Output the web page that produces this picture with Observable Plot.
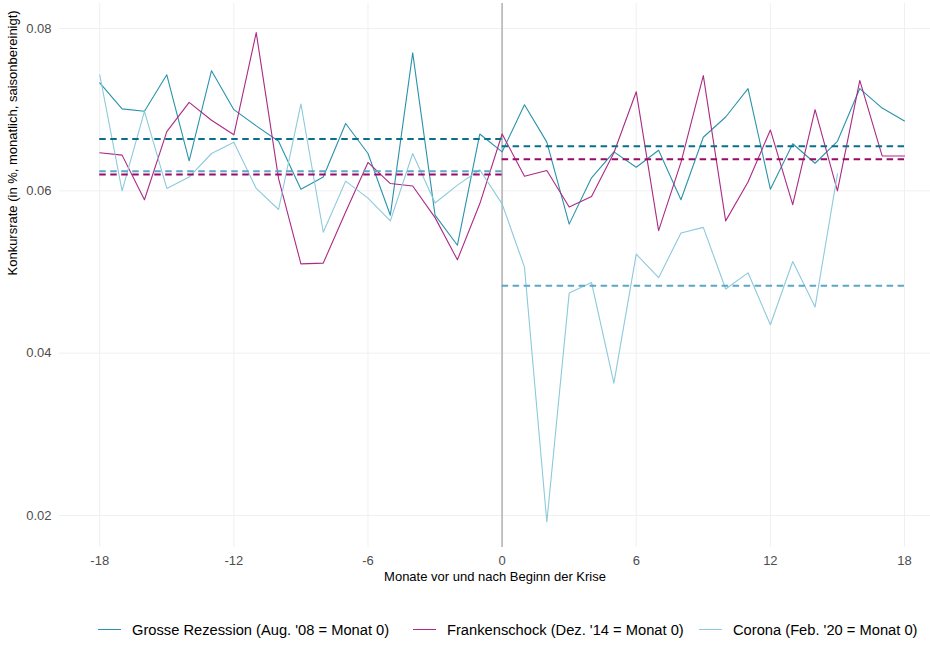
<!DOCTYPE html>
<html>
<head>
<meta charset="utf-8">
<script src="https://cdn.jsdelivr.net/npm/d3@7"></script>
<script src="https://cdn.jsdelivr.net/npm/@observablehq/plot@0.6"></script>
<style>
  body { margin: 0; background: #fff; font-family: "Liberation Sans", Arial, sans-serif; }
  #chart svg { display: block; }
  #legend { position: relative; height: 49px; margin-top: 5px; font-size: 14.7px; color: #000; white-space: nowrap; }
  .item { position: absolute; top: 0; height: 49px; display: flex; align-items: center; }
  .key { width: 23px; height: 1.5px; margin-right: 11px; }
</style>
</head>
<body>
<div id="chart"></div>
<div id="legend"></div>
<script>
// ---- data ----
const months = [-18,-17,-16,-15,-14,-13,-12,-11,-10,-9,-8,-7,-6,-5,-4,-3,-2,-1,0,1,2,3,4,5,6,7,8,9,10,11,12,13,14,15,16,17,18];
const grosse = [0.0733,0.0701,0.0698,0.0743,0.0637,0.0748,0.0700,0.0680,0.0661,0.0602,0.0617,0.0683,0.0646,0.0570,0.0770,0.0570,0.0533,0.0670,0.0648,0.0706,0.0660,0.0559,0.0616,0.0648,0.0629,0.0650,0.0589,0.0666,0.0691,0.0726,0.0602,0.0658,0.0634,0.0661,0.0726,0.0702,0.0686];
const franken = [0.0647,0.0644,0.0589,0.0673,0.0709,0.0687,0.0669,0.0795,0.0615,0.0510,0.0511,0.0574,0.0635,0.0609,0.0606,0.0567,0.0515,0.0584,0.0670,0.0618,0.0625,0.0580,0.0593,0.0647,0.0722,0.0551,0.0635,0.0742,0.0563,0.0611,0.0675,0.0583,0.0700,0.0600,0.0736,0.0643,0.0643];
const corona = [0.0743,0.0600,0.0698,0.0603,0.0617,0.0646,0.0660,0.0603,0.0577,0.0707,0.0549,0.0612,0.0591,0.0563,0.0646,0.0585,0.0607,0.0626,0.0584,0.0506,0.0192,0.0474,0.0487,0.0363,0.0522,0.0493,0.0548,0.0555,0.0479,0.0499,0.0435,0.0513,0.0457,0.0621];
const seriesNames = ["Grosse Rezession (Aug. '08 = Monat 0)", "Frankenschock (Dez. '14 = Monat 0)", "Corona (Feb. '20 = Monat 0)"];
const preMeans = [0.0664, 0.0620, 0.0624];   // months -18 .. 0
const postMeans = [0.0655, 0.0639, 0.0483];  // months 0 .. 18
const periodStart = [-18, 0];
const periodEnd = [0, 18];
const xTicks = [-18, -12, -6, 0, 6, 12, 18];
const yTicks = [0.02, 0.04, 0.06, 0.08];
const xTitle = "Monate vor und nach Beginn der Krise";
const yTitle = "Konkursrate (in %, monatlich, saisonbereinigt)";

// ---- styles / layout ----
const lineColors = ["#2a93ab", "#ab2a85", "#8ccadb"];
const meanColors = ["#0a6f8c", "#9a0b66", "#5ba8c6"];
const legendLefts = [98, 413, 699];
const values = [grosse, franken, corona];

const rows = values.map(arr => arr.map((v, i) => ({m: months[i], v})));
const meanRows = preMeans.map((pre, s) => [
  {x1: periodStart[0], x2: periodEnd[0], v: pre},
  {x1: periodStart[1], x2: periodEnd[1], v: postMeans[s]}
]);

const font = '"Liberation Sans", Arial, sans-serif';
const chart = Plot.plot({
  width: 930, height: 600,
  marginLeft: 59, marginRight: 0, marginTop: 3, marginBottom: 53,
  style: {fontFamily: font, fontSize: "13px", background: "white", overflow: "visible"},
  x: {domain: [-19.8, 19.163], label: null},
  y: {domain: [0.01606, 0.08308], label: null},
  marks: [
    Plot.gridY(yTicks, {stroke: "#f0f0f0", strokeOpacity: 1, strokeWidth: 1}),
    Plot.gridX(xTicks, {stroke: "#f0f0f0", strokeOpacity: 1, strokeWidth: 1}),
    Plot.ruleX([0], {stroke: "#bdbdbd", strokeWidth: 1.8}),
    ...rows.map((r, s) => Plot.line(r, {x: "m", y: "v", stroke: lineColors[s], strokeWidth: 1.1})),
    ...meanRows.map((r, s) => Plot.ruleY(r, {y: "v", x1: "x1", x2: "x2", stroke: meanColors[s], strokeWidth: 2, strokeDasharray: "6.5,4.5"})),
    Plot.axisX(xTicks, {tickSize: 0, tickPadding: 8, color: "#4d4d4d", label: null, fontSize: 13, tickFormat: d => String(d)}),
    Plot.axisY(yTicks, {tickSize: 0, tickPadding: 8, color: "#4d4d4d", label: null, fontSize: 13, tickFormat: d => d.toFixed(2)}),
    Plot.text([xTitle], {frameAnchor: "bottom", dy: 33, fill: "black", fontSize: 13}),
    Plot.text([yTitle], {frameAnchor: "left", dx: -47, rotate: -90, fill: "black", fontSize: 13})
  ]
});
document.getElementById("chart").appendChild(chart);

const legend = document.getElementById("legend");
seriesNames.forEach((name, s) => {
  const item = document.createElement("div");
  item.className = "item";
  item.style.left = legendLefts[s] + "px";
  const key = document.createElement("span");
  key.className = "key";
  key.style.background = lineColors[s];
  const label = document.createElement("span");
  label.textContent = name;
  item.appendChild(key);
  item.appendChild(label);
  legend.appendChild(item);
});
</script>
</body>
</html>
